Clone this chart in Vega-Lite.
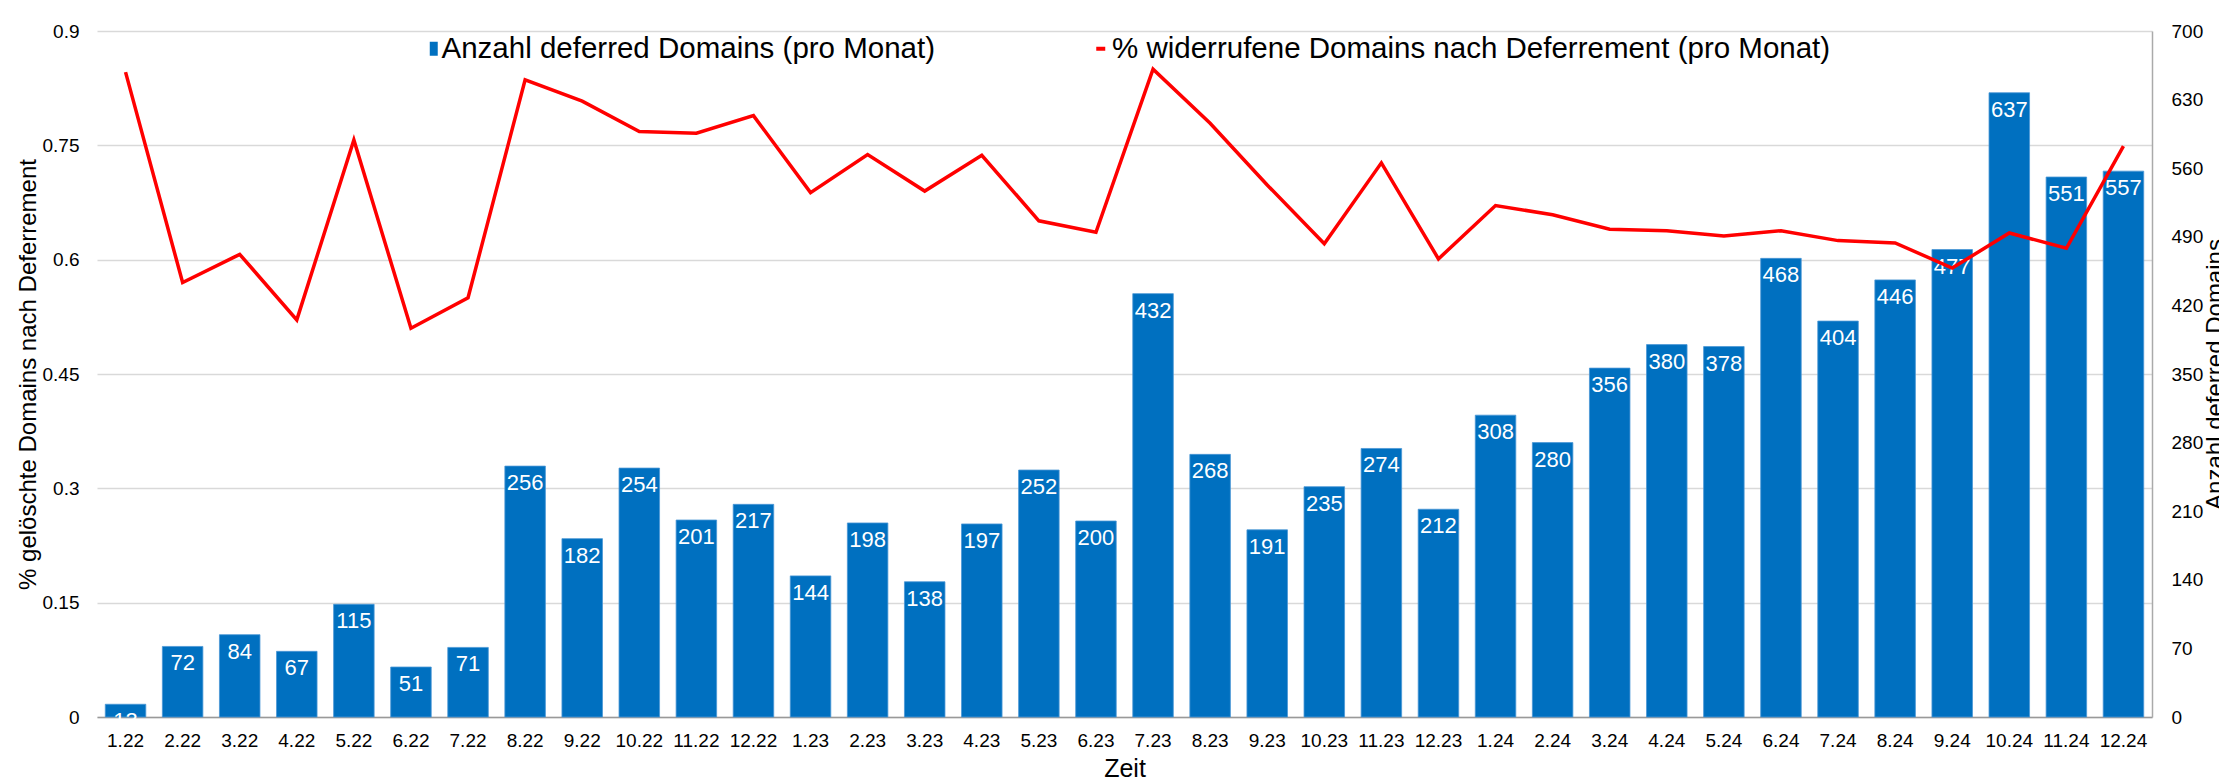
{
  "$schema": "https://vega.github.io/schema/vega-lite/v6.json",
  "width": 2055,
  "height": 686,
  "autosize": {"type": "none"},
  "padding": {"left": 97, "top": 31, "right": 67, "bottom": 66},
  "background": "white",
  "config": {"font": "Liberation Sans", "view": {"stroke": null}},
  "data": {
    "values": [
      {"m": "1.22", "n": 13, "p": 0.846},
      {"m": "2.22", "n": 72, "p": 0.570},
      {"m": "3.22", "n": 84, "p": 0.607},
      {"m": "4.22", "n": 67, "p": 0.521},
      {"m": "5.22", "n": 115, "p": 0.757},
      {"m": "6.22", "n": 51, "p": 0.510},
      {"m": "7.22", "n": 71, "p": 0.550},
      {"m": "8.22", "n": 256, "p": 0.836},
      {"m": "9.22", "n": 182, "p": 0.808},
      {"m": "10.22", "n": 254, "p": 0.768},
      {"m": "11.22", "n": 201, "p": 0.766},
      {"m": "12.22", "n": 217, "p": 0.789},
      {"m": "1.23", "n": 144, "p": 0.688},
      {"m": "2.23", "n": 198, "p": 0.738},
      {"m": "3.23", "n": 138, "p": 0.690},
      {"m": "4.23", "n": 197, "p": 0.737},
      {"m": "5.23", "n": 252, "p": 0.651},
      {"m": "6.23", "n": 200, "p": 0.636},
      {"m": "7.23", "n": 432, "p": 0.850},
      {"m": "8.23", "n": 268, "p": 0.779},
      {"m": "9.23", "n": 191, "p": 0.698},
      {"m": "10.23", "n": 235, "p": 0.621},
      {"m": "11.23", "n": 274, "p": 0.727},
      {"m": "12.23", "n": 212, "p": 0.601},
      {"m": "1.24", "n": 308, "p": 0.671},
      {"m": "2.24", "n": 280, "p": 0.659},
      {"m": "3.24", "n": 356, "p": 0.640},
      {"m": "4.24", "n": 380, "p": 0.638},
      {"m": "5.24", "n": 378, "p": 0.631},
      {"m": "6.24", "n": 468, "p": 0.638},
      {"m": "7.24", "n": 404, "p": 0.625},
      {"m": "8.24", "n": 446, "p": 0.622},
      {"m": "9.24", "n": 477, "p": 0.589},
      {"m": "10.24", "n": 637, "p": 0.635},
      {"m": "11.24", "n": 551, "p": 0.615},
      {"m": "12.24", "n": 557, "p": 0.749}
    ]
  },
  "encoding": {
    "x": {
      "field": "m",
      "type": "nominal",
      "sort": null,
      "scale": {"paddingInner": 0.29, "paddingOuter": 0.145},
      "axis": {
        "title": "Zeit",
        "labelAngle": 0,
        "labelOverlap": false,
        "ticks": false,
        "tickSize": 0,
        "labelPadding": 14,
        "labelFontSize": 19,
        "labelColor": "#000",
        "domainColor": "#999999",
        "domainWidth": 1.5,
        "grid": false,
        "titleFontSize": 25,
        "titleFontWeight": "normal",
        "titleColor": "#000",
        "titleBaseline": "alphabetic",
        "titleY": 59
      }
    }
  },
  "layer": [
    {
      "encoding": {
        "y": {
          "field": "n",
          "type": "quantitative",
          "scale": {"domain": [0, 700], "nice": false},
          "axis": {
            "orient": "right",
            "values": [0, 70, 140, 210, 280, 350, 420, 490, 560, 630, 700],
            "title": "Anzahl deferred Domains",
            "grid": false,
            "ticks": false,
            "tickSize": 0,
            "labelPadding": 19,
            "labelFontSize": 19,
            "labelColor": "#000",
            "domainColor": "#aaaaaa",
            "domainWidth": 1.5,
            "titleFontSize": 24,
            "titleFontWeight": "normal",
            "titleColor": "#000",
            "titleAngle": 270,
            "titleBaseline": "alphabetic",
            "titleX": 70,
            "titleY": 343
          }
        }
      },
      "layer": [
        {
          "mark": {"type": "bar", "stroke": "#4a97d6", "strokeWidth": 0.8},
          "encoding": {
            "fill": {
              "datum": "Anzahl deferred Domains (pro Monat)",
              "scale": {"range": ["#0070c0"]},
              "legend": {
                "orient": "none",
                "legendX": 322,
                "legendY": 3,
                "title": null,
                "padding": 0,
                "symbolType": "M-0.57,-1H0.57V1H-0.57Z",
                "symbolSize": 196,
                "symbolStrokeWidth": 0,
                "labelFontSize": 29.5,
                "labelLimit": 1000,
                "labelOffset": -7,
                "labelColor": "#000"
              }
            }
          }
        },
        {
          "mark": {"type": "text", "color": "white", "fontSize": 22, "baseline": "top", "dy": 7},
          "encoding": {"text": {"field": "n", "type": "quantitative"}}
        }
      ]
    },
    {
      "mark": {"type": "line", "strokeWidth": 3.5, "strokeJoin": "miter"},
      "encoding": {
        "y": {
          "field": "p",
          "type": "quantitative",
          "scale": {"domain": [0, 0.9], "nice": false},
          "axis": {
            "orient": "left",
            "values": [0, 0.15, 0.3, 0.45, 0.6, 0.75, 0.9],
            "labelExpr": "'' + datum.value",
            "grid": true,
            "gridColor": "#d9d9d9",
            "gridWidth": 1.5,
            "domain": false,
            "ticks": false,
            "tickSize": 0,
            "labelPadding": 18,
            "labelFontSize": 19,
            "labelColor": "#000",
            "title": "% gelöschte Domains nach Deferrement",
            "titleFontSize": 24,
            "titleFontWeight": "normal",
            "titleColor": "#000",
            "titleAngle": 270,
            "titleBaseline": "alphabetic",
            "titleX": -62,
            "titleY": 343
          }
        },
        "stroke": {
          "datum": "% widerrufene Domains nach Deferrement (pro Monat)",
          "scale": {"range": ["#ff0000"]},
          "legend": {
            "orient": "none",
            "legendX": 989,
            "legendY": 3,
            "title": null,
            "padding": 0,
            "symbolType": "stroke",
            "symbolSize": 81,
            "symbolStrokeWidth": 4,
            "labelFontSize": 29.5,
            "labelLimit": 1000,
            "labelOffset": -3.5,
            "labelColor": "#000"
          }
        }
      }
    }
  ],
  "resolve": {"scale": {"y": "independent"}}
}
